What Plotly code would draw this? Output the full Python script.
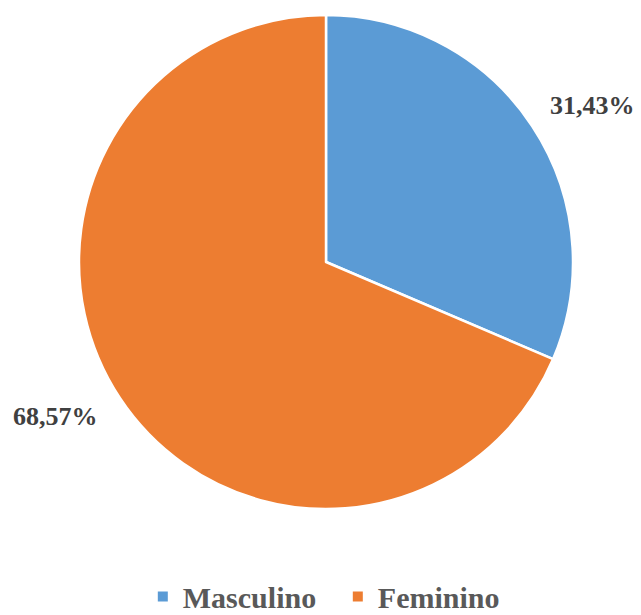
import plotly.graph_objects as go

# Distribution by sex
categories = ["Masculino", "Feminino"]
values = [31.43, 68.57]
colors = ["#5B9BD5", "#ED7D31"]

# Label anchor points (paper coordinates) for the outside percentage labels
label_x = [0.925, 0.087]
label_y = [0.829, 0.322]

W, H = 641, 615


def fmt_pct(v):
    return f"{v:.2f}".replace(".", ",") + "%"


fig = go.Figure(
    go.Pie(
        labels=categories,
        values=values,
        sort=False,
        direction="clockwise",
        rotation=0,
        marker=dict(colors=colors, line=dict(color="white", width=2.5)),
        textinfo="none",
        hoverinfo="label+percent",
        domain=dict(x=[(326 - 247) / W, (326 + 247) / W], y=[1 - 509 / H, 1 - 15 / H]),
    )
)

for v, x, y in zip(values, label_x, label_y):
    fig.add_annotation(
        x=x, y=y, xref="paper", yref="paper",
        text=f"<b>{fmt_pct(v)}</b>",
        showarrow=False,
        font=dict(family="Liberation Serif", size=26, color="#404040"),
        xanchor="center", yanchor="middle",
    )

fig.update_layout(
    width=W, height=H,
    margin=dict(l=0, r=0, t=0, b=0, autoexpand=False),
    paper_bgcolor="white",
    plot_bgcolor="white",
    showlegend=True,
    legend=dict(
        orientation="h",
        x=0.527, xanchor="center",
        y=-0.012, yanchor="bottom",
        font=dict(family="Liberation Serif", size=30, color="#595959", weight="bold"),
        itemsizing="constant",
        traceorder="normal",
        entrywidth=150,
        entrywidthmode="pixels",
    ),
)

fig.write_html("out.html")
